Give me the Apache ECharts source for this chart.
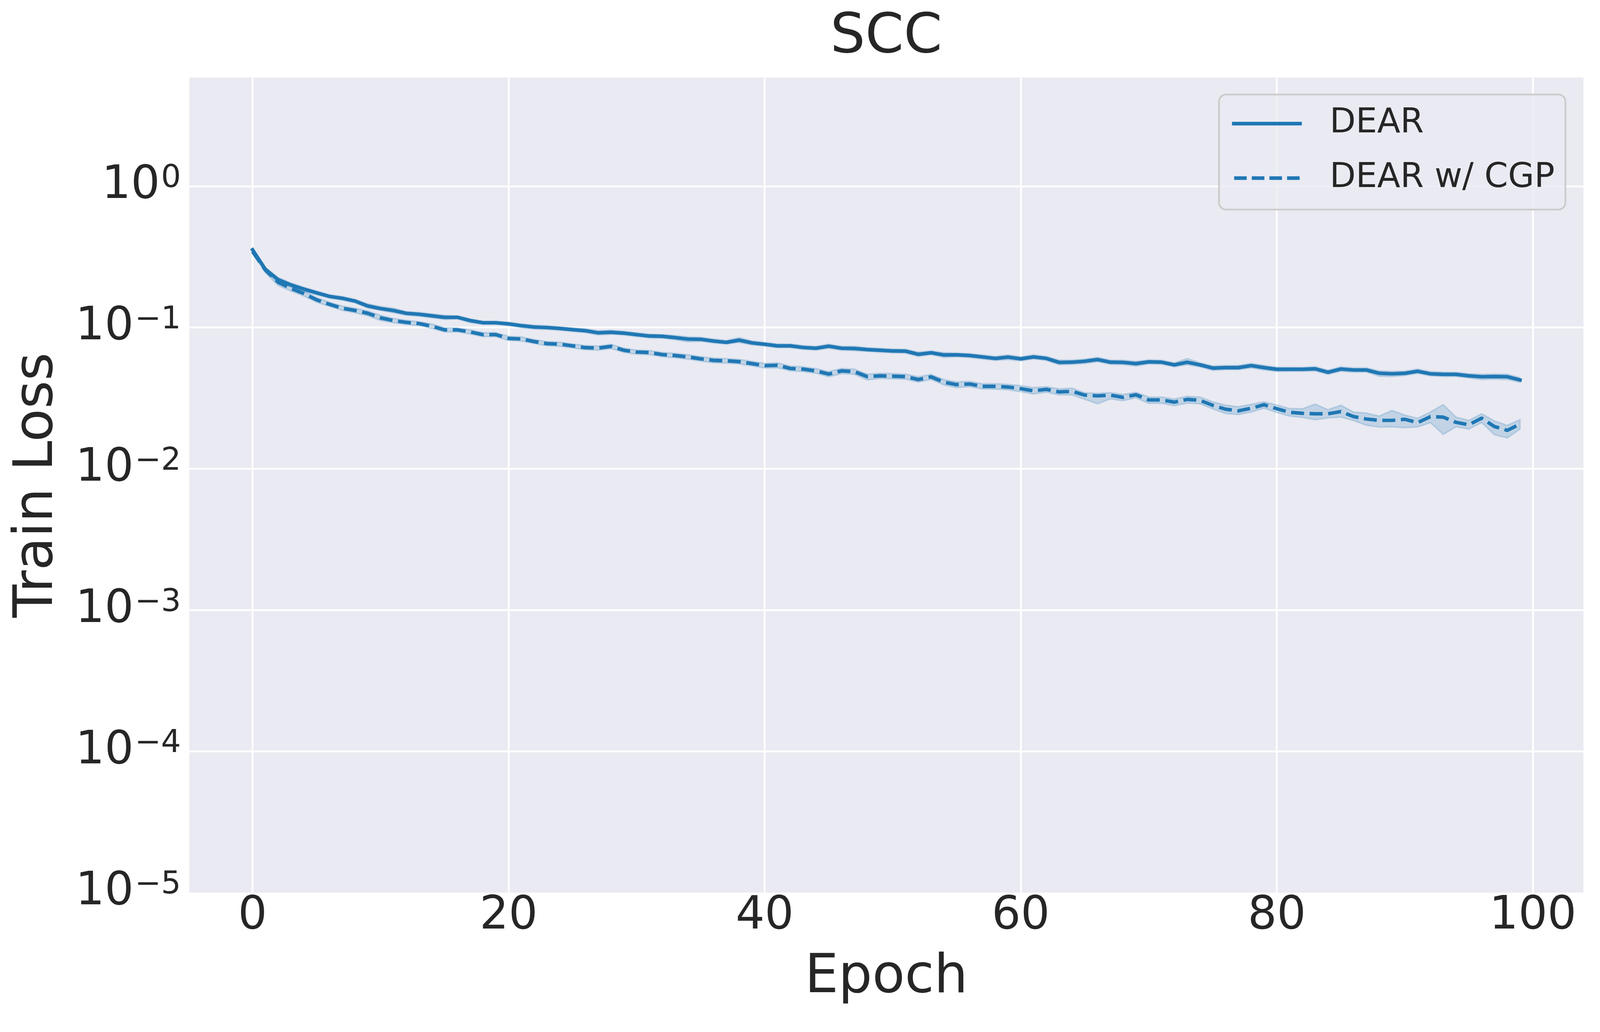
<!DOCTYPE html>
<html>
<head>
<meta charset="utf-8">
<title>SCC</title>
<script src="https://cdn.jsdelivr.net/npm/echarts@6/dist/echarts.min.js"></script>
<style>
  html, body { margin: 0; padding: 0; background: #ffffff; overflow: hidden; }
  #chart { width: 100vw; height: 100vh; }
</style>
</head>
<body>
<div id="chart"></div>
<script>
// train loss per epoch (mean over runs)
var dear = [0.355, 0.258, 0.218, 0.200, 0.187, 0.176, 0.166, 0.161, 0.154, 0.142,
  0.136, 0.132, 0.126, 0.124, 0.121, 0.118, 0.118, 0.112, 0.108, 0.108,
  0.106, 0.103, 0.1007, 0.0999, 0.0984, 0.0965, 0.0949, 0.0917, 0.0925, 0.0912,
  0.089, 0.087, 0.0866, 0.0848, 0.0828, 0.0825, 0.0802, 0.0785, 0.0813, 0.0778,
  0.0761, 0.0741, 0.0741, 0.0722, 0.0713, 0.0737, 0.0713, 0.071, 0.0698, 0.069,
  0.0682, 0.068, 0.0646, 0.0662, 0.0639, 0.064, 0.0633, 0.0619, 0.0604, 0.0617,
  0.060, 0.0619, 0.0604, 0.0566, 0.0568, 0.0577, 0.0593, 0.0568, 0.0566, 0.0555,
  0.0571, 0.0568, 0.0544, 0.0568, 0.0544, 0.0516, 0.052, 0.052, 0.0537, 0.052,
  0.0506, 0.0506, 0.0506, 0.051, 0.0482, 0.0508, 0.050, 0.050, 0.0474, 0.047,
  0.0474, 0.049, 0.047, 0.0466, 0.0466, 0.0455, 0.0448, 0.045, 0.0448, 0.0425];
var dearLow = [0.343, 0.248, 0.209, 0.193, 0.181, 0.170, 0.161, 0.156, 0.149, 0.137,
  0.132, 0.127, 0.122, 0.120, 0.117, 0.114, 0.115, 0.108, 0.105, 0.105,
  0.103, 0.0995, 0.0975, 0.0968, 0.0955, 0.0935, 0.0918, 0.0885, 0.0895, 0.0883,
  0.0862, 0.0842, 0.0838, 0.0818, 0.0792, 0.0798, 0.0775, 0.0762, 0.0783, 0.0752,
  0.0737, 0.0718, 0.0718, 0.0699, 0.069, 0.0712, 0.069, 0.0685, 0.0676, 0.0668,
  0.066, 0.0658, 0.0623, 0.0642, 0.0614, 0.062, 0.0612, 0.0598, 0.0584, 0.0592,
  0.058, 0.0598, 0.0584, 0.0545, 0.0548, 0.0556, 0.0572, 0.0548, 0.0546, 0.0533,
  0.0552, 0.0549, 0.0526, 0.0545, 0.0525, 0.0497, 0.0502, 0.0502, 0.0517, 0.0501,
  0.0488, 0.0489, 0.049, 0.0492, 0.0465, 0.049, 0.0483, 0.0483, 0.0452, 0.0449,
  0.0457, 0.0473, 0.0454, 0.045, 0.045, 0.0439, 0.0428, 0.0431, 0.0428, 0.0409];
var dearHigh = [0.366, 0.266, 0.226, 0.207, 0.193, 0.181, 0.171, 0.166, 0.158, 0.147,
  0.141, 0.137, 0.130, 0.128, 0.125, 0.122, 0.121, 0.115, 0.111, 0.111,
  0.109, 0.106, 0.104, 0.103, 0.101, 0.0995, 0.098, 0.0948, 0.0957, 0.0942,
  0.0918, 0.0898, 0.0893, 0.0877, 0.0858, 0.0852, 0.0828, 0.081, 0.0848, 0.0805,
  0.0785, 0.0765, 0.0765, 0.0746, 0.0736, 0.0762, 0.0736, 0.0736, 0.072, 0.0712,
  0.0705, 0.0702, 0.067, 0.0683, 0.0664, 0.066, 0.0654, 0.064, 0.0624, 0.064,
  0.062, 0.064, 0.0625, 0.0588, 0.0588, 0.0597, 0.0615, 0.0588, 0.0587, 0.0576,
  0.059, 0.0587, 0.0562, 0.0603, 0.0563, 0.0535, 0.0538, 0.0539, 0.0557, 0.0539,
  0.0524, 0.0523, 0.0522, 0.0528, 0.0499, 0.0527, 0.0517, 0.0518, 0.0493, 0.0489,
  0.0491, 0.0508, 0.0487, 0.0483, 0.0482, 0.0471, 0.0466, 0.0468, 0.0467, 0.0441];

var dearCgp = [0.345, 0.255, 0.209, 0.189, 0.174, 0.157, 0.146, 0.137, 0.132, 0.126,
  0.117, 0.112, 0.1087, 0.1066, 0.102, 0.0962, 0.0962, 0.093, 0.089, 0.089,
  0.0837, 0.083, 0.0795, 0.0769, 0.0762, 0.0741, 0.072, 0.0715, 0.0735, 0.069,
  0.067, 0.0665, 0.0643, 0.0633, 0.0619, 0.060, 0.0585, 0.0581, 0.0573, 0.0555,
  0.0537, 0.054, 0.0513, 0.0507, 0.0493, 0.0468, 0.0493, 0.0487, 0.0449, 0.0455,
  0.0452, 0.0449, 0.0428, 0.0447, 0.041, 0.0394, 0.0398, 0.0383, 0.0383, 0.0379,
  0.0369, 0.0356, 0.0365, 0.035, 0.0353, 0.0332, 0.0328, 0.0332, 0.032, 0.0334,
  0.0307, 0.0307, 0.0296, 0.031, 0.0305, 0.0281, 0.0264, 0.0257, 0.0268, 0.0284,
  0.0266, 0.0251, 0.0247, 0.0245, 0.0245, 0.0254, 0.0234, 0.0225, 0.022, 0.022,
  0.0224, 0.0212, 0.0234, 0.0232, 0.0213, 0.0205, 0.0228, 0.0199, 0.0187, 0.0207];
var dearCgpLow = [0.334, 0.244, 0.198, 0.181, 0.167, 0.151, 0.141, 0.132, 0.127, 0.121,
  0.112, 0.108, 0.105, 0.103, 0.0985, 0.0928, 0.093, 0.0898, 0.086, 0.086,
  0.0808, 0.0802, 0.0768, 0.0743, 0.0736, 0.0716, 0.0695, 0.069, 0.0708, 0.0666,
  0.0647, 0.0642, 0.062, 0.061, 0.0596, 0.0578, 0.0562, 0.056, 0.0552, 0.0534,
  0.0516, 0.0518, 0.0493, 0.0487, 0.0474, 0.0448, 0.0471, 0.0466, 0.0425, 0.0436,
  0.0433, 0.043, 0.041, 0.0428, 0.0392, 0.0375, 0.0381, 0.0367, 0.0366, 0.0362,
  0.0351, 0.0338, 0.0348, 0.0333, 0.0333, 0.031, 0.0288, 0.0312, 0.0303, 0.0318,
  0.029, 0.0291, 0.0279, 0.0292, 0.0288, 0.0265, 0.0246, 0.0242, 0.0252, 0.0268,
  0.025, 0.0236, 0.0231, 0.0222, 0.0229, 0.0232, 0.0219, 0.0203, 0.0197, 0.0198,
  0.0195, 0.0198, 0.0212, 0.0175, 0.0198, 0.0191, 0.0212, 0.0174, 0.0165, 0.0191];
var dearCgpHigh = [0.357, 0.265, 0.219, 0.197, 0.181, 0.163, 0.151, 0.142, 0.137, 0.131,
  0.122, 0.116, 0.1125, 0.110, 0.106, 0.0997, 0.0995, 0.0963, 0.092, 0.092,
  0.0867, 0.0858, 0.0822, 0.0795, 0.0788, 0.0766, 0.0745, 0.074, 0.0762, 0.0714,
  0.0693, 0.0688, 0.0666, 0.0656, 0.0642, 0.0622, 0.0608, 0.0602, 0.0595, 0.0576,
  0.0558, 0.0562, 0.0533, 0.0527, 0.0512, 0.0488, 0.0513, 0.0508, 0.0468, 0.0474,
  0.0472, 0.0468, 0.0448, 0.0466, 0.0428, 0.0412, 0.0416, 0.04, 0.04, 0.0396,
  0.0388, 0.0376, 0.0381, 0.0368, 0.0372, 0.0345, 0.0342, 0.0346, 0.0336, 0.0348,
  0.0322, 0.0322, 0.0312, 0.0326, 0.0322, 0.0298, 0.0282, 0.0275, 0.0286, 0.0298,
  0.0283, 0.0267, 0.0266, 0.0287, 0.0262, 0.0282, 0.0252, 0.0248, 0.0236, 0.0259,
  0.024, 0.0228, 0.0252, 0.0285, 0.0232, 0.022, 0.0245, 0.0218, 0.0203, 0.0223];

var seriesNames = ['DEAR', 'DEAR w/ CGP'];
var titleText = 'SCC';
var xName = 'Epoch';
var yName = 'Train Loss';
var xTicks = [0, 20, 40, 60, 80, 100];

var blue = '#1f77b4';
var bandFill = 'rgba(31,119,180,0.2)';
var ink = '#262626';
var font = 'DejaVu Sans';

// layout is measured on a 4444 x 2643 canvas and scaled to the real viewport
var dom = document.getElementById('chart');
var sx = dom.clientWidth / 4444;
var sy = dom.clientHeight / 2643;
function px(v) { return v * sx; }   // horizontal sizes, fonts, strokes
function py(v) { return v * sy; }   // vertical positions

function pairs(arr) {
  return arr.map(function (v, i) { return [i, v]; });
}

// filled spread between low and high, drawn as one polygon through the axes
function bandSeries(low, high) {
  return {
    type: 'custom',
    silent: true,
    z: 2,
    clip: true,
    data: low.map(function (v, i) { return [i, v, high[i]]; }),
    encode: { x: 0, y: [1, 2] },
    renderItem: function (params, api) {
      if (params.dataIndex !== 0) return null;
      var pts = [];
      for (var i = 0; i < high.length; i++) pts.push(api.coord([i, high[i]]));
      for (var j = low.length - 1; j >= 0; j--) pts.push(api.coord([j, low[j]]));
      return {
        type: 'polygon',
        shape: { points: pts },
        style: { fill: bandFill, stroke: bandFill, lineWidth: px(4), lineJoin: 'round' }
      };
    }
  };
}

function logLabel(v) {
  var e = Math.log10(v);
  var r = Math.round(e);
  if (Math.abs(e - r) > 1e-6) return '';
  var exp = r < 0 ? '\u2212' + (-r) : String(r);
  return '{b|10}{s|' + exp + '}';
}

var solidIcon = 'path://M0,0L194,0L194,10L0,10Z';
var dashIcon = 'path://M0,0h35v10h-35zM49,0h35v10h-35zM98,0h35v10h-35zM147,0h35v10h-35z';

var myChart = echarts.init(dom, null, { renderer: 'canvas' });

var option = {
  animation: false,
  backgroundColor: '#ffffff',
  textStyle: { fontFamily: font, color: ink },
  title: {
    text: titleText,
    left: px(2306),
    top: py(27),
    padding: 0,
    textStyle: { fontFamily: font, fontSize: px(153), fontWeight: 'normal', color: ink }
  },
  grid: {
    left: px(525.5), right: px(46), top: py(198.5), bottom: py(357),
    show: true, backgroundColor: '#eaeaf2', borderWidth: 0,
    containLabel: false, outerBoundsMode: 'none'
  },
  legend: {
    data: [
      { name: seriesNames[0], icon: solidIcon },
      { name: seriesNames[1], icon: dashIcon }
    ],
    orient: 'vertical',
    right: px(96),
    top: py(242),
    padding: [py(24), px(30), py(30), px(36)],
    itemGap: py(38),
    itemWidth: px(194),
    itemHeight: px(10),
    symbolKeepAspect: true,
    itemStyle: { borderWidth: 0 },
    backgroundColor: 'rgba(234,234,242,0.8)',
    borderColor: '#cccccc',
    borderWidth: px(5),
    borderRadius: px(20),
    textStyle: {
      fontFamily: font, fontSize: px(94), color: ink, lineHeight: px(110),
      padding: [0, 0, 0, px(72)]
    }
  },
  xAxis: {
    type: 'value',
    min: -4.95,
    max: 103.95,
    minInterval: 20,
    maxInterval: 20,
    name: xName,
    nameLocation: 'middle',
    nameGap: py(152),
    nameTextStyle: { fontFamily: font, fontSize: px(148), color: ink },
    axisLine: { show: false },
    axisTick: { show: false },
    axisLabel: {
      margin: py(3),
      fontFamily: font, fontSize: px(127), color: ink,
      formatter: function (v) { return xTicks.indexOf(v) >= 0 ? String(v) : ''; }
    },
    splitLine: {
      show: true, showMinLine: false, showMaxLine: false,
      lineStyle: { color: '#ffffff', width: px(5) }
    }
  },
  yAxis: {
    type: 'log',
    logBase: 10,
    min: 1e-5,
    max: 5.88,
    name: yName,
    nameLocation: 'middle',
    nameGap: px(345),
    nameTextStyle: { fontFamily: font, fontSize: px(150), color: ink },
    axisLine: { show: false },
    axisTick: { show: false },
    axisLabel: {
      margin: px(23),
      formatter: logLabel,
      rich: {
        b: { fontFamily: font, fontSize: px(127), color: ink, lineHeight: px(127), padding: [px(14), 0, px(14), 0] },
        s: { fontFamily: font, fontSize: px(87), color: ink, verticalAlign: 'top', padding: [0, 0, 0, px(3)] }
      }
    },
    splitLine: {
      show: true, showMinLine: false, showMaxLine: false,
      lineStyle: { color: '#ffffff', width: px(5) }
    }
  },
  series: [
    bandSeries(dearLow, dearHigh),
    bandSeries(dearCgpLow, dearCgpHigh),
    {
      name: seriesNames[0], type: 'line', data: pairs(dear),
      symbol: 'none', showSymbol: false, z: 5,
      itemStyle: { color: blue },
      lineStyle: { color: blue, width: px(9.7), join: 'round', cap: 'square' }
    },
    {
      name: seriesNames[1], type: 'line', data: pairs(dearCgp),
      symbol: 'none', showSymbol: false, z: 5,
      itemStyle: { color: blue },
      lineStyle: { color: blue, width: px(9.7), type: [px(36), px(15.5)], cap: 'butt', join: 'round' }
    }
  ]
};

if (option && typeof option === 'object') {
  myChart.setOption(option);
}
</script>
</body>
</html>
